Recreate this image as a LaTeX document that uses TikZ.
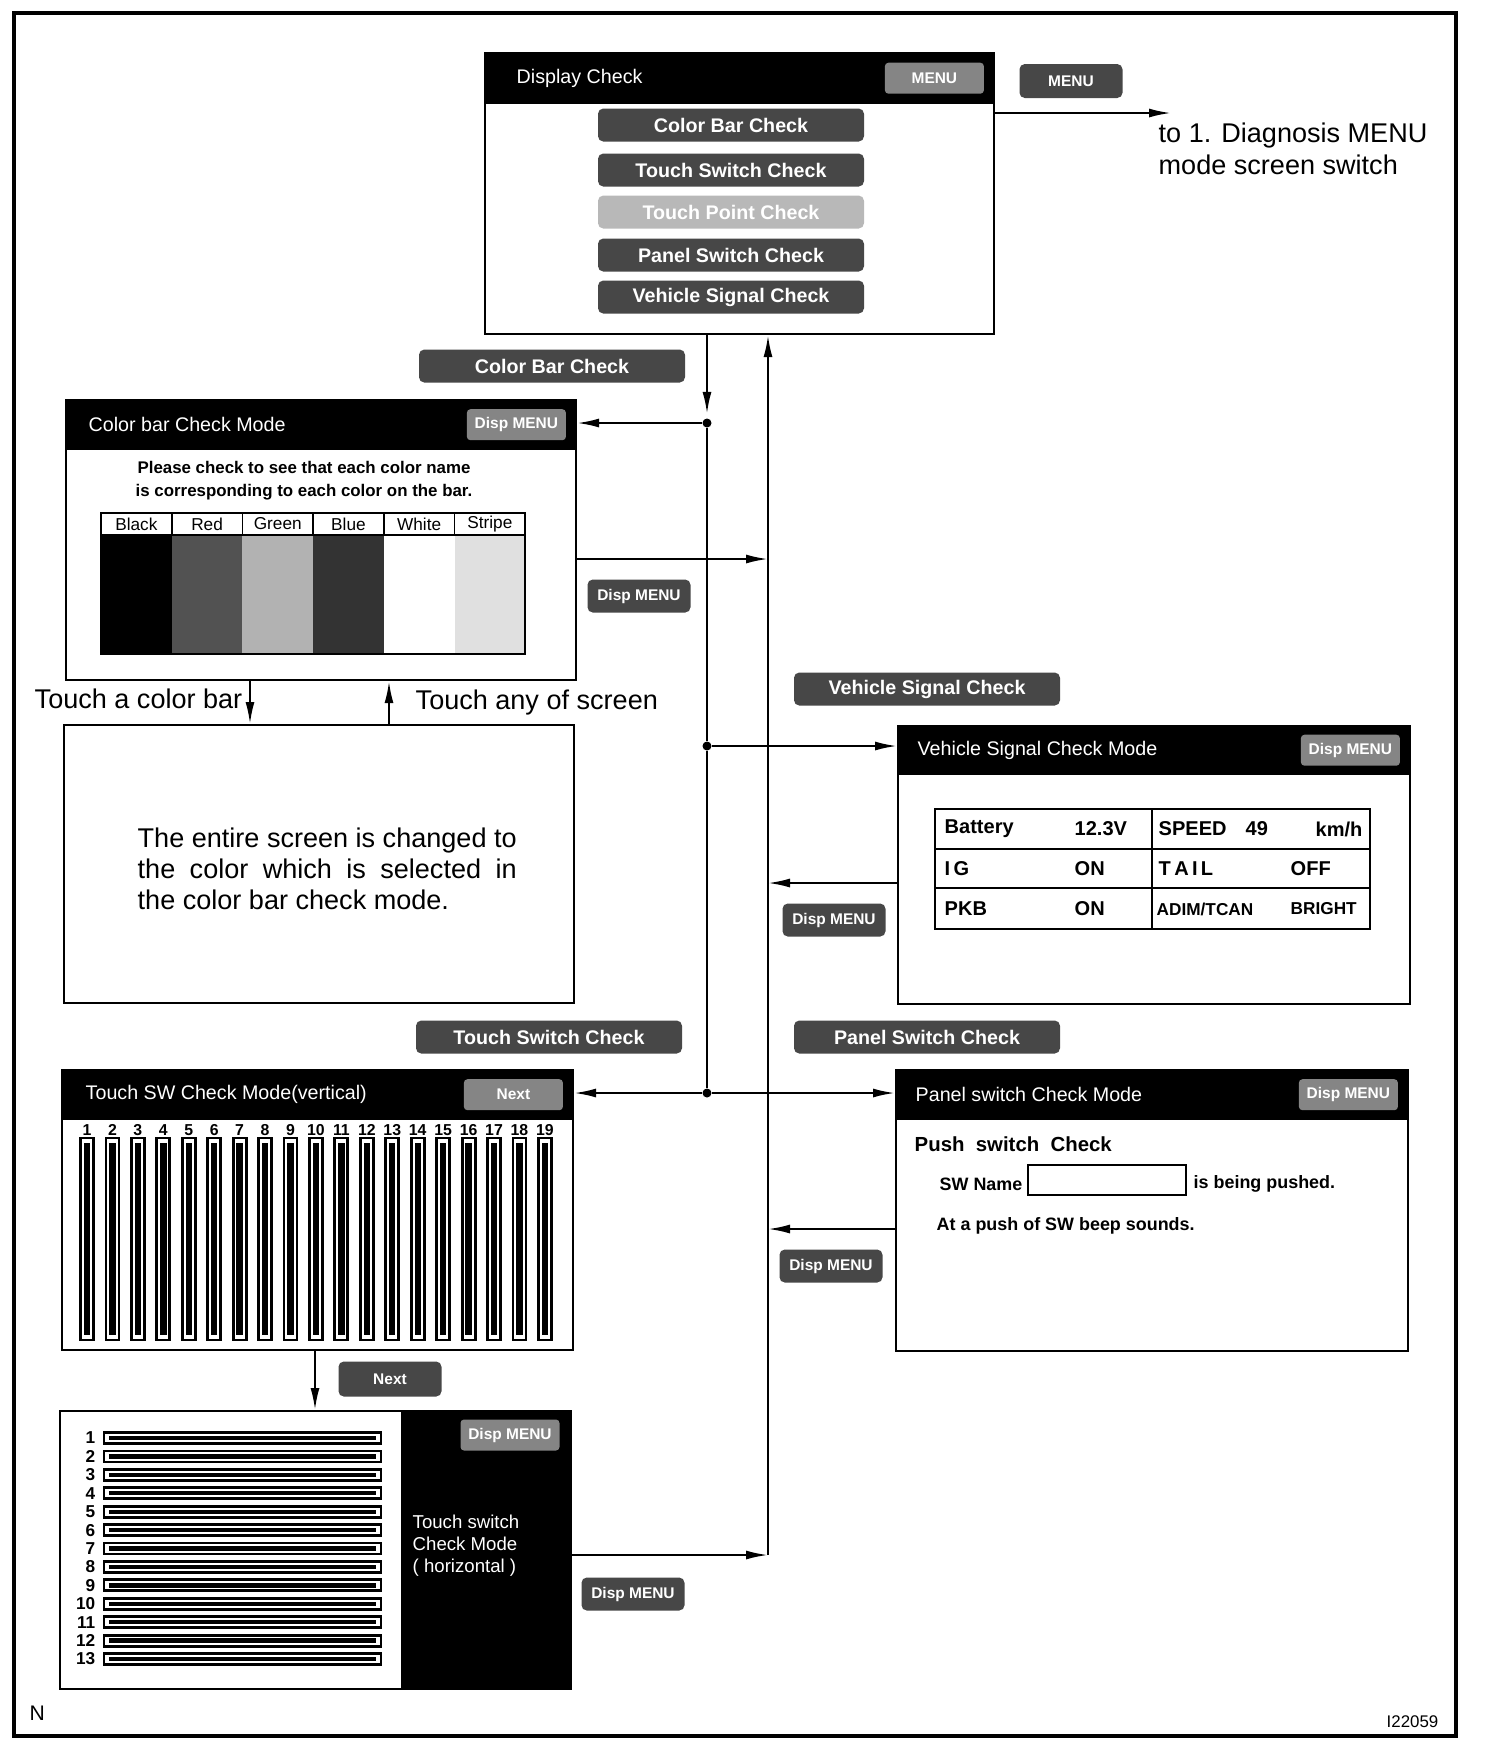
\documentclass[tikz,border=0pt]{standalone}
\usepackage{fontspec}
\setmainfont{Liberation Sans}
\usetikzlibrary{arrows.meta,positioning}

\tikzset{
  screen/.style={draw,line width=0.6pt,anchor=north west,inner sep=0pt},
  header/.style={fill=black,anchor=north west,inner sep=0pt},
  title/.style={text=white,anchor=west,inner sep=0pt,font=\fontsize{5.6}{6.5}\selectfont},
  btn/.style={fill=black!72,text=white,rounded corners=1.5pt,inner sep=0pt,
    minimum width=26.6mm,minimum height=3.3mm,font=\fontsize{5.6}{6.5}\selectfont\bfseries},
  minibtn/.style={btn,minimum width=10.3mm,font=\fontsize{4.4}{5}\selectfont\bfseries},
  hdrbtn/.style={minibtn,fill=black!48,rounded corners=1pt,minimum width=9.9mm,minimum height=3.1mm},
  note/.style={inner sep=0pt,font=\fontsize{7.7}{9}\selectfont},
  vtxt/.style={anchor=west,inner sep=0pt,font=\fontsize{5.7}{6}\selectfont\bfseries},
  ptxt/.style={anchor=west,inner sep=0pt,font=\fontsize{5.1}{6}\selectfont\bfseries},
  flow/.style={line width=0.6pt,-{Latex[length=2.2mm,width=0.9mm]}},
  junc/.style={circle,fill,inner sep=0pt,minimum size=0.9mm}
}

\begin{document}
\begin{tikzpicture}[x=0.1mm,y=-0.1mm]
\useasboundingbox (0,0) rectangle (1504,1752);
\draw[line width=1.1pt] (14,13) rectangle (1456,1736);

% display check screen
\node[screen,minimum width=50.9mm,minimum height=28.1mm] (disp) at (484,52) {};
\node[header,minimum width=50.9mm,minimum height=5.1mm] (disphd) at (disp.north west) {};
\node[title] (disptt) at ([xshift=3.2mm]disphd.west) {Display Check};
\node[hdrbtn] (dispmenu) at ([xshift=-6mm]disphd.east) {MENU};
\node[btn] (bcolor) at (731,125) {Color Bar Check};
\node[btn] (btouch) at (731,170) {Touch Switch Check};
\node[btn,fill=black!28] (bpoint) at (731,212) {Touch Point Check};
\node[btn] (bpanel) at (731,255) {Panel Switch Check};
\node[btn] (bvehicle) at (731,297) {Vehicle Signal Check};

\node[minibtn,minimum height=3.4mm] (menu) at (1071,81) {MENU};
\coordinate (diag) at (1171,113);
\draw[flow] (disp.east |- diag) -- (diag);
\node[anchor=west,align=left,inner sep=0pt,font=\fontsize{7.7}{9.1}\selectfont] (diagtxt) at (1158,149) {to 1. Diagnosis MENU\\mode screen switch};

% color bar check
\node[btn] (lcolor) at (552,366) {Color Bar Check};
\node[screen,minimum width=51mm,minimum height=28mm] (cbar) at (65,399) {};
\node[header,minimum width=51mm,minimum height=5mm] (cbarhd) at (cbar.north west) {};
\node[title] (cbartt) at ([xshift=2.3mm]cbarhd.west) {Color bar Check Mode};
\node[hdrbtn] (cbarmenu) at ([xshift=-6mm]cbarhd.east) {Disp MENU};
\node[align=center,font=\fontsize{4.8}{6.5}\selectfont\bfseries] (cbartxt) at (304,481)
  {Please check to see that each color name\\is corresponding to each color on the bar.};
\foreach \nm/\cl [count=\i from 0] in {Black/black,Red/black!68,Green/black!30,Blue/black!80,White/white,Stripe/black!12}{
  \fill[\cl] ({101+\i*70.7},535) rectangle ++(70.7,119);
  \draw[line width=0.5pt] ({101+\i*70.7},513) rectangle ++(70.7,22);
  \node[font=\fontsize{4.9}{5}\selectfont] (c\i) at ({136.35+\i*70.7},524) {\nm};
}
\draw[line width=0.5pt] (101,513) rectangle (525,654);
\node[minibtn] (cbarback) at (639,596) {Disp MENU};

% whole screen in one colour
\node[screen,minimum width=51mm,minimum height=27.8mm] (full) at (63,724) {};
\node[anchor=west,align=left,inner sep=0pt,font=\fontsize{7.7}{8.8}\selectfont] (fulltxt) at (137,869)
  {\makebox[37.9mm][s]{The entire screen is changed to}\\\makebox[37.9mm][s]{the color which is selected in}\\the color bar check mode.};
\coordinate (tca) at (250,700);
\coordinate (tcb) at (389,700);
\draw[flow] (tca |- cbar.south) -- (tca |- full.north);
\draw[flow] (tcb |- full.north) -- (tcb |- cbar.south);
\node[note,anchor=east] (ltca) at (243,699) {Touch a color bar};
\node[note,anchor=west] (ltcb) at (415,702) {Touch any of screen};

% vehicle signal check
\node[btn] (lvehicle) at (927,689) {Vehicle Signal Check};
\node[screen,minimum width=51.2mm,minimum height=27.8mm] (vsig) at (897,725) {};
\node[header,minimum width=51.2mm,minimum height=4.9mm] (vsighd) at (vsig.north west) {};
\node[title] (vsigtt) at ([xshift=2mm]vsighd.west) {Vehicle Signal Check Mode};
\node[hdrbtn] (vsigmenu) at ([xshift=-6mm]vsighd.east) {Disp MENU};
\draw[line width=0.7pt] (935,809) rectangle (1370,929);
\draw[line width=0.6pt] (935,849) -- (1370,849) (935,888) -- (1370,888) (1152,809) -- (1152,929);
\node[vtxt] (v11) at (944,829) {Battery};
\node[vtxt] (v12) at (1074,829) {12.3V};
\node[vtxt] (v13) at (1158,829) {SPEED};
\node[vtxt] (v14) at (1245,829) {49};
\node[vtxt] (v15) at (1315,829) {km/h};
\node[vtxt] (v21) at (944,869) {I\,G};
\node[vtxt] (v22) at (1074,869) {ON};
\node[vtxt] (v23) at (1158,869) {T\,A\,I\,L};
\node[vtxt] (v24) at (1290,869) {OFF};
\node[vtxt] (v31) at (944,909) {PKB};
\node[vtxt] (v32) at (1074,909) {ON};
\node[vtxt,font=\fontsize{4.9}{5}\selectfont\bfseries] (v33) at (1156,909) {ADIM/TCAN};
\node[vtxt,font=\fontsize{4.9}{5}\selectfont\bfseries] (v34) at (1290,909) {BRIGHT};
\node[minibtn] (vsigback) at (834,920) {Disp MENU};

% touch switch check, vertical
\node[btn] (ltouch) at (549,1037) {Touch Switch Check};
\node[btn] (lpanel) at (927,1037) {Panel Switch Check};
\node[screen,minimum width=51.1mm,minimum height=28mm] (tsw) at (61,1069) {};
\node[header,minimum width=51.1mm,minimum height=5mm] (tswhd) at (tsw.north west) {};
\node[title] (tswtt) at ([xshift=2.4mm]tswhd.west) {Touch SW Check Mode(vertical)};
\node[hdrbtn] (tswnext) at ([xshift=-6mm]tswhd.east) {Next};
\foreach \i in {1,...,19}{
  \draw[line width=0.8pt] ({87+(\i-1)*25.44-6.5},1138) rectangle ({87+(\i-1)*25.44+6.5},1340);
  \fill ({87+(\i-1)*25.44-3.2},1143) rectangle ({87+(\i-1)*25.44+3.2},1335);
  \node[font=\fontsize{4.5}{5}\selectfont\bfseries] (v\i) at ({87+(\i-1)*25.44},1130) {\i};
}
\node[minibtn,minimum height=3.5mm] (next) at (390,1379) {Next};

% touch switch check, horizontal
\node[screen,minimum width=51.1mm,minimum height=27.8mm] (thor) at (59,1410) {};
\node[header,anchor=north east,minimum width=17mm,minimum height=27.8mm] (thordk) at (thor.north east) {};
\node[hdrbtn] (thormenu) at (510,1435) {Disp MENU};
\node[anchor=west,align=left,inner sep=0pt,text=white,font=\fontsize{5.3}{6.3}\selectfont] (thortt) at (412,1546)
  {Touch switch\\Check Mode\\( horizontal )};
\foreach \i in {1,...,13}{
  \draw[line width=0.8pt] (104,{1438+(\i-1)*18.42-5.5}) rectangle (381,{1438+(\i-1)*18.42+5.5});
  \fill (109,{1438+(\i-1)*18.42-2.2}) rectangle (376,{1438+(\i-1)*18.42+2.2});
  \node[anchor=east,inner sep=0pt,font=\fontsize{4.9}{5}\selectfont\bfseries] (h\i) at (96,{1438+(\i-1)*18.42}) {\i};
}
\node[minibtn] (thorback) at (633,1594) {Disp MENU};
\coordinate (nxt) at (315,1380);
\draw[flow] (nxt |- tsw.south) -- (nxt |- thor.north);

% panel switch check
\node[screen,minimum width=51.2mm,minimum height=28.1mm] (panel) at (895,1069) {};
\node[header,minimum width=51.2mm,minimum height=5mm] (panelhd) at (panel.north west) {};
\node[title] (paneltt) at ([xshift=2mm]panelhd.west) {Panel switch Check Mode};
\node[hdrbtn] (panelmenu) at ([xshift=-6mm]panelhd.east) {Disp MENU};
\node[anchor=west,inner sep=0pt,font=\fontsize{5.8}{6}\selectfont\bfseries] (push) at (914,1144) {Push\ \ switch\ \ Check};
\node[ptxt] (swname) at (939,1184) {SW Name};
\node[draw,line width=0.5pt,minimum width=15.8mm,minimum height=3mm,inner sep=0pt] (swbox) at (1107,1180) {};
\node[ptxt] (pushed) at (1193,1184) {is being pushed.};
\node[ptxt] (beep) at (936,1226) {At a push of SW beep sounds.};
\node[minibtn] (panelback) at (831,1266) {Disp MENU};

% connectors
\node[junc] (j1) at (707,423) {};
\node[junc] (j2) at (707,746) {};
\node[junc] (j3) at (707,1093) {};
\draw[flow,shorten >=0.4mm] (j1 |- disp.south) -- (j1);
\draw[line width=0.6pt] (j1) -- (j2) -- (j3);
\draw[flow] (j1) -- (j1 -| cbar.east);
\draw[flow] (j2) -- (j2 -| vsig.west);
\draw[flow] (j3) -- (j3 -| tsw.east);
\draw[flow] (j3) -- (j3 -| panel.west);

\coordinate (r1) at (768,1555);
\coordinate (r2) at (768,559);
\coordinate (r3) at (768,883);
\coordinate (r4) at (768,1229);
\draw[flow] (r1) -- (r1 |- disp.south);
\draw[flow] (cbar.east |- r2) -- (r2);
\draw[flow] (vsig.west |- r3) -- (r3);
\draw[flow] (panel.west |- r4) -- (r4);
\draw[flow] (thor.east |- r1) -- (r1);

\node[anchor=west,inner sep=0pt,font=\fontsize{6}{6}\selectfont] (ntag) at (29,1713) {N};
\node[anchor=east,inner sep=0pt,font=\fontsize{4.8}{5}\selectfont] (figno) at (1439,1722) {I22059};
\end{tikzpicture}
\end{document}
